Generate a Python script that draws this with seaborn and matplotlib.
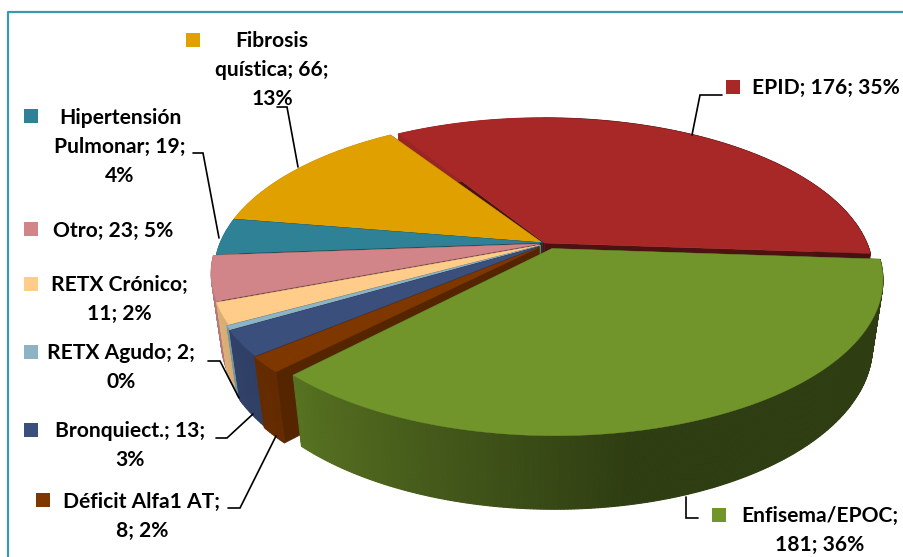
import numpy as np
import matplotlib
matplotlib.use("Agg")
import matplotlib.pyplot as plt
import seaborn as sns

# values, clockwise starting from EPID
categories = ["EPID", "Enfisema/EPOC", "Déficit Alfa1 AT", "Bronquiect.", "RETX Agudo",
              "RETX Crónico", "Otro", "Hipertensión Pulmonar", "Fibrosis quística"]
values = [176, 181, 8, 13, 2, 11, 23, 19, 66]
label_texts = ["EPID; 176; 35%", "Enfisema/EPOC;\n181; 36%", "Déficit Alfa1 AT;\n8; 2%",
               "Bronquiect.; 13;\n3%", "RETX Agudo; 2;\n0%", "RETX Crónico;\n11; 2%",
               "Otro; 23; 5%", "Hipertensión\nPulmonar; 19;\n4%", "Fibrosis\nquística; 66;\n13%"]

hex_colors = ["#A82828", "#71942B", "#7F3700", "#3B4F7D", "#8CB4C4",
              "#FFCC8A", "#D18588", "#2F8296", "#E0A000"]

# slice offsets on the unit disc (x, y), and shade of the flat cut faces
offsets = [(0.018, 0.0), (0.04, -0.037), (0, -0.03), (0.0, -0.024), (0.0, -0.02),
           (0.004, -0.014), (0.002, -0.006), (0.01, 0.002), (0.01, 0.002)]
face_shade = [0.45, 0.45, 0.67, 0.6, 0.6, 0.6, 0.5, 0.4, 0.45]
start_trim = [1.3, 0, 0, 0, 0, 0, 0, 0, 0]
end_trim = [0, 0.7, 0, 0, 0, 0, 0, 0, 0]

# label centre, first line y, legend square centre
label_pos = [(826, 88, 733, 87), (820, 516, 719, 515), (142, 502, 43, 500),
             (130, 431, 31, 430), (121, 353, 31, 352), (119, 285, 31, 284),
             (113, 231, 31, 229), (120, 118, 31, 116), (272, 41, 193, 40)]

leaders = [[(722, 95), (700, 95), (692, 135)],
           [(698, 518), (686, 518), (686, 497)],
           [(228, 508), (240, 508), (276, 436)],
           [(216, 438), (227, 438), (253, 414)],
           [(208, 361), (220, 361), (239, 398)],
           [(193, 153), (203, 153), (219, 238)],
           [(277, 107), (287, 107), (298, 167)]]

CX, CY = 539, 243
A, B, DEPTH = 322, 149, 67
K, M = 0.191, 0.03
START = -33.0


def project(x, y, z):
    s = 1.0 / (1.0 + K * y + M * z)
    return CX + A * x * s, CY + (-B * y + DEPTH * z) * s


def wall_shade(t):
    t = (t + 360) % 360
    return np.interp(t, [95, 170, 228, 270], [0.42, 0.42, 0.8, 0.92])


sns.set_theme(style="white")
plt.rcParams["font.family"] = ["Lato", "DejaVu Sans"]
colors = sns.color_palette(hex_colors)

fig, ax = plt.subplots(figsize=(9.04, 5.57), dpi=100)
ax.set_position([0, 0, 1, 1])
ax.set_xlim(0, 904)
ax.set_ylim(557, 0)
ax.axis("off")

fractions = np.array(values) / sum(values)
edges = START + 360 * np.concatenate([[0], np.cumsum(fractions)])
mids = (edges[:-1] + edges[1:]) / 2
order = np.argsort(-np.cos(np.radians(mids)))

for i in order:
    color = np.array(colors[i])
    ox, oy = offsets[i]
    t0 = edges[i] + start_trim[i]
    t1 = edges[i + 1] - end_trim[i]
    t = np.radians(np.linspace(t0, t1, max(3, int((t1 - t0) * 2))))
    rx, ry = ox + np.sin(t), oy + np.cos(t)

    # flat cut faces
    face = tuple(color * face_shade[i])
    for px, py in [(rx[0], ry[0]), (rx[-1], ry[-1])]:
        quad = [project(ox, oy, 0), project(px, py, 0), project(px, py, 1), project(ox, oy, 1)]
        ax.fill(*zip(*quad), color=face, lw=0.4, zorder=2)

    # outer wall in thin strips for the shading
    for j in range(len(t) - 1):
        quad = [project(rx[j], ry[j], 0), project(rx[j + 1], ry[j + 1], 0),
                project(rx[j + 1], ry[j + 1], 1), project(rx[j], ry[j], 1)]
        shade = tuple(color * wall_shade(np.degrees((t[j] + t[j + 1]) / 2)))
        ax.fill(*zip(*quad), color=shade, lw=0.8, zorder=2)

    # top
    top_x, top_y = project(np.r_[ox, rx], np.r_[oy, ry], 0)
    ax.fill(top_x, top_y, color=tuple(color), lw=0.3, zorder=2)

for pts in leaders:
    ax.plot(*zip(*pts), color="black", lw=1.2, zorder=3, solid_joinstyle="miter")

for i, text in enumerate(label_texts):
    lx, ly, mx, my = label_pos[i]
    for n, line in enumerate(text.split("\n")):
        ax.text(lx, ly + n * 29, line, ha="center", va="center", fontsize=15.1,
                fontweight="bold", color="black", zorder=4)
    ax.scatter([mx], [my], marker="s", s=100, color=[colors[i]], linewidths=0, zorder=4)

# chart frame
ax.plot([8, 8, 904], [557, 12, 12], color="#3C9AB0", lw=1.6, zorder=5, clip_on=False)

fig.savefig("out.png", dpi=100)
